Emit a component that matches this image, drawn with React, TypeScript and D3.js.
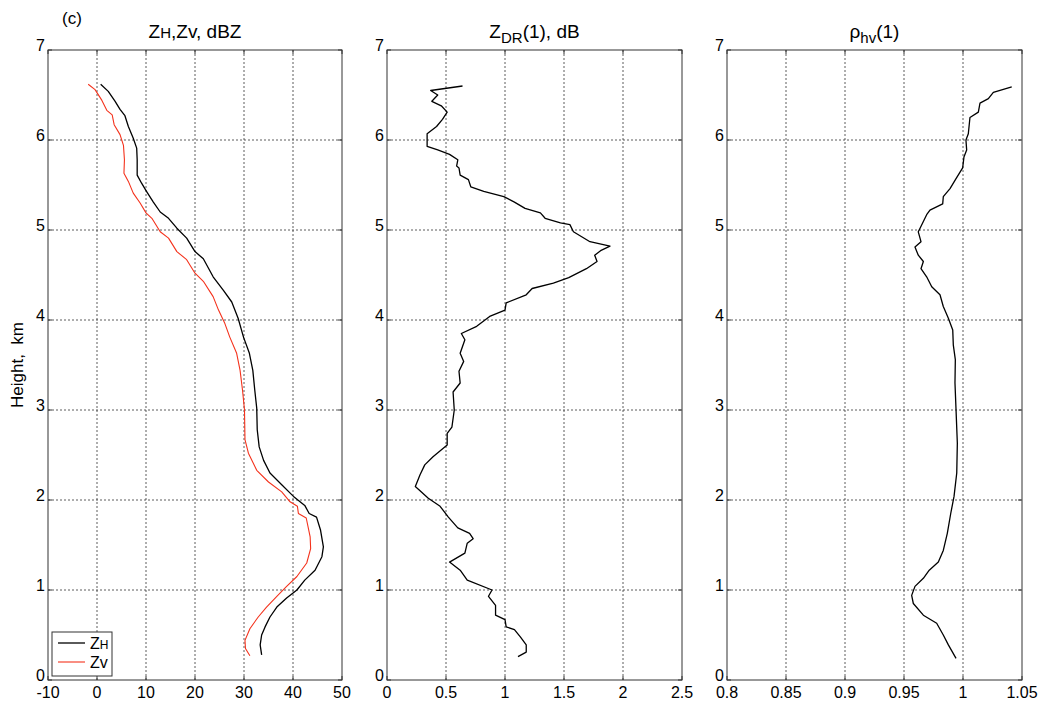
import React from "react";
import * as d3 from "d3";

// heights (km) and values for each profile
const zhH = [6.62,6.54,6.43,6.34,6.27,6.15,6.02,5.91,5.78,5.61,5.52,5.43,5.31,5.20,5.13,5.02,4.91,4.76,4.68,4.48,4.33,4.20,4.02,3.81,3.63,3.44,3.22,3.02,2.78,2.59,2.44,2.30,2.17,2.04,1.94,1.85,1.81,1.67,1.48,1.37,1.22,1.11,1.00,0.91,0.81,0.70,0.59,0.50,0.39,0.28];
const zhV = [0.75,2.3,3.7,4.7,5.7,6.4,7.4,8.1,8.2,8.2,9.1,10.1,11.5,12.9,14.6,16.3,18.3,20,21.7,23.7,25.8,27.5,28.8,29.9,31.1,31.8,32.2,32.6,32.7,33.1,34,35.3,37.7,40.1,42.4,43.3,44.8,45.6,46.2,45.9,44.5,42.4,40.8,38.7,36.7,35.3,34.3,33.6,33.3,33.6];

const zvH = [6.62,6.56,6.44,6.33,6.28,6.17,6.06,5.94,5.78,5.63,5.54,5.41,5.30,5.19,5.13,4.98,4.91,4.76,4.67,4.52,4.43,4.26,4.11,3.96,3.81,3.63,3.44,3.22,3.00,2.67,2.52,2.33,2.20,2.09,1.98,1.93,1.85,1.80,1.59,1.46,1.30,1.15,1.04,0.93,0.81,0.70,0.57,0.44,0.35,0.27];
const zvV = [-1.8,-0.4,1.0,2.0,3.1,3.5,4.7,5.4,5.6,5.5,6.4,7.4,8.8,10.0,11.2,12.9,14.6,16.3,18.3,20,21.7,23.7,24.8,26.1,27.1,28.5,29.2,29.7,30.1,30.2,30.9,32.6,35,37.7,39.4,40.9,41.1,42.7,43.5,43.6,42.8,40.8,38.7,36.7,34.6,32.9,31.2,30.2,30.3,31.2];

const zdrH = [6.60,6.55,6.50,6.43,6.38,6.31,6.23,6.15,6.07,5.93,5.89,5.84,5.78,5.71,5.69,5.61,5.56,5.48,5.43,5.37,5.31,5.24,5.19,5.13,5.08,5.06,4.98,4.87,4.82,4.77,4.72,4.65,4.57,4.47,4.41,4.35,4.28,4.19,4.11,4.04,3.93,3.85,3.78,3.63,3.54,3.43,3.30,3.20,3.00,2.81,2.74,2.61,2.48,2.39,2.28,2.15,2.02,1.93,1.81,1.69,1.63,1.57,1.52,1.41,1.31,1.22,1.11,1.00,0.93,0.83,0.72,0.67,0.59,0.56,0.48,0.39,0.31,0.26];
const zdrV = [0.64,0.37,0.43,0.38,0.46,0.51,0.47,0.42,0.34,0.34,0.43,0.53,0.60,0.59,0.61,0.62,0.69,0.71,0.82,0.99,1.08,1.17,1.30,1.34,1.47,1.55,1.58,1.72,1.89,1.81,1.76,1.78,1.69,1.54,1.41,1.23,1.18,1.01,1.00,0.87,0.76,0.63,0.66,0.62,0.65,0.61,0.62,0.56,0.57,0.55,0.51,0.51,0.39,0.32,0.28,0.24,0.35,0.45,0.52,0.60,0.70,0.73,0.68,0.66,0.53,0.62,0.68,0.89,0.86,0.92,0.92,1.00,1.01,1.08,1.13,1.18,1.18,1.11];

const rhoH = [6.59,6.53,6.46,6.41,6.31,6.25,6.07,6.00,5.89,5.81,5.69,5.57,5.46,5.37,5.29,5.22,5.17,5.02,4.98,4.87,4.81,4.72,4.65,4.57,4.48,4.37,4.28,4.15,4.02,3.89,3.72,3.56,3.30,3.00,2.63,2.30,2.04,1.85,1.63,1.44,1.31,1.22,1.13,1.04,0.94,0.85,0.72,0.63,0.50,0.39,0.24];
const rhoV = [1.0413,1.0257,1.0215,1.0144,1.0130,1.0059,1.0045,1.0025,1.0031,1.0008,0.9997,0.9941,0.9890,0.9833,0.9828,0.9720,0.9692,0.9636,0.9621,0.9644,0.9593,0.9621,0.9664,0.9644,0.9692,0.9735,0.9805,0.9833,0.9876,0.9913,0.9918,0.9935,0.9932,0.9941,0.9952,0.9947,0.9924,0.9896,0.9867,0.9833,0.9791,0.9714,0.9664,0.9593,0.9565,0.9579,0.9664,0.9777,0.9833,0.9876,0.9941];

const yTicks = [0, 1, 2, 3, 4, 5, 6, 7];
const xTicks1 = [-10, 0, 10, 20, 30, 40, 50];
const xTicks2 = [0, 0.5, 1, 1.5, 2, 2.5];
const xTicks3 = [0.8, 0.85, 0.9, 0.95, 1, 1.05];

const FONT = "'Liberation Sans', Arial, Helvetica, sans-serif";
const TOP = 50;
const BOTTOM = 680;

type Series = { h: number[]; v: number[]; color: string; width: number };

function Panel(props: {
  x0: number; x1: number; domain: [number, number]; ticks: number[];
  series: Series[]; title: React.ReactNode; children?: React.ReactNode;
}) {
  const { x0, x1, domain, ticks, series, title } = props;
  const x = d3.scaleLinear().domain(domain).range([x0, x1]);
  const y = d3.scaleLinear().domain([0, 7]).range([BOTTOM, TOP]);
  const line = d3.line<[number, number]>().x((d) => x(d[0])).y((d) => y(d[1]));
  const fmt = (t: number) => String(t);
  return (
    <g>
      {ticks.slice(1, -1).map((t) => (
        <line key={"gx" + t} x1={x(t)} x2={x(t)} y1={TOP} y2={BOTTOM} stroke="#333" strokeWidth={0.8} strokeDasharray="2,2" />
      ))}
      {yTicks.slice(1, -1).map((t) => (
        <line key={"gy" + t} x1={x0} x2={x1} y1={y(t)} y2={y(t)} stroke="#333" strokeWidth={0.8} strokeDasharray="2,2" />
      ))}
      {ticks.map((t) => (
        <g key={"tx" + t}>
          <line x1={x(t)} x2={x(t)} y1={BOTTOM} y2={BOTTOM - 4} stroke="#333" />
          <line x1={x(t)} x2={x(t)} y1={TOP} y2={TOP + 4} stroke="#333" />
        </g>
      ))}
      {yTicks.map((t) => (
        <g key={"ty" + t}>
          <line x1={x0} x2={x0 + 4} y1={y(t)} y2={y(t)} stroke="#333" />
          <line x1={x1} x2={x1 - 4} y1={y(t)} y2={y(t)} stroke="#333" />
        </g>
      ))}
      {series.map((s, i) => (
        <path key={i} d={line(s.v.map((v, j) => [v, s.h[j]] as [number, number])) || ""} fill="none" stroke={s.color} strokeWidth={s.width} strokeLinejoin="round" />
      ))}
      <rect x={x0} y={TOP} width={x1 - x0} height={BOTTOM - TOP} fill="none" stroke="#333" strokeWidth={1} />
      {ticks.map((t) => (
        <text key={"lx" + t} x={x(t)} y={698} textAnchor="middle" fontSize={16} fontFamily={FONT}>{fmt(t)}</text>
      ))}
      {yTicks.map((t) => (
        <text key={"ly" + t} x={x0 - 3} y={y(t) - 3} textAnchor="end" dominantBaseline="middle" fontSize={16} fontFamily={FONT}>{t}</text>
      ))}
      <text x={(x0 + x1) / 2} y={38} textAnchor="middle" fontSize={19} fontFamily={FONT}>{title}</text>
      {props.children}
    </g>
  );
}

export default function App() {
  return (
    <svg width={1039} height={702} style={{ position: "absolute", left: 0, top: 0, background: "#fff" }}>
      <rect width={1039} height={702} fill="#fff" />
      <text x={62} y={24} fontSize={17} fontFamily={FONT}>(c)</text>
      <text transform="translate(23,365) rotate(-90)" textAnchor="middle" fontSize={17} fontFamily={FONT} xmlSpace="preserve">Height,  km</text>
      <Panel x0={48} x1={342} domain={[-10, 50]} ticks={xTicks1}
        series={[{ h: zhH, v: zhV, color: "#000", width: 1.3 }, { h: zvH, v: zvV, color: "#f4321c", width: 1.1 }]}
        title={<>Z<tspan fontSize={15}>H</tspan>,Zv, dBZ</>}>
        <rect x={52} y={632} width={60} height={44} fill="#fff" stroke="#333" />
        <line x1={58} x2={85} y1={643} y2={643} stroke="#000" strokeWidth={1.3} />
        <text x={90} y={649} fontSize={16} fontFamily={FONT}>Z<tspan fontSize={12}>H</tspan></text>
        <line x1={58} x2={85} y1={662} y2={662} stroke="#f4321c" strokeWidth={1.1} />
        <text x={90} y={668} fontSize={16} fontFamily={FONT}>Zv</text>
      </Panel>
      <Panel x0={387} x1={682} domain={[0, 2.5]} ticks={xTicks2}
        series={[{ h: zdrH, v: zdrV, color: "#000", width: 1.3 }]}
        title={<>Z<tspan fontSize={15} dy={5}>DR</tspan><tspan dy={-5}>(1), dB</tspan></>} />
      <Panel x0={727} x1={1022} domain={[0.8, 1.05]} ticks={xTicks3}
        series={[{ h: rhoH, v: rhoV, color: "#000", width: 1.3 }]}
        title={<>ρ<tspan fontSize={15} dy={5}>hv</tspan><tspan dy={-5}>(1)</tspan></>} />
    </svg>
  );
}
